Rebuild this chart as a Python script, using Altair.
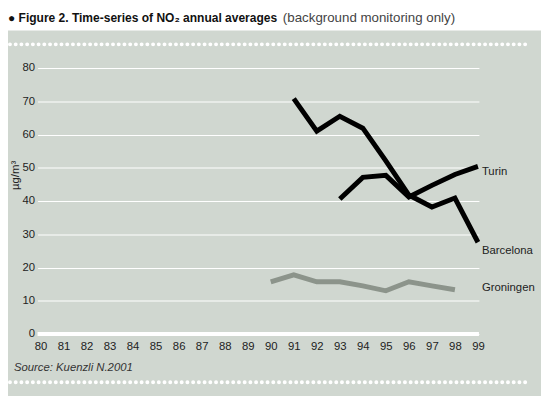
import altair as alt
import pandas as pd

years_barcelona = [91, 92, 93, 94, 95, 96, 97, 98, 99]
barcelona = [70.8, 61.0, 65.5, 61.9, 52.1, 41.8, 38.2, 40.9, 27.6]
years_turin = [93, 94, 95, 96, 97, 98, 99]
turin = [40.6, 47.1, 47.7, 41.2, 44.7, 48.0, 50.4]
years_groningen = [90, 91, 92, 93, 94, 95, 96, 97, 98]
groningen = [15.7, 17.8, 15.7, 15.7, 14.5, 13.0, 15.7, 14.5, 13.3]
x_ticks = list(range(80, 100))
y_ticks = list(range(0, 90, 10))
cities = ["Barcelona", "Turin", "Groningen"]
colors = ["#000000", "#000000", "#8c948b"]

rows = []
for c, ys, vs in [("Barcelona", years_barcelona, barcelona),
                  ("Turin", years_turin, turin),
                  ("Groningen", years_groningen, groningen)]:
    for y, v in zip(ys, vs):
        rows.append({"city": c, "year": y, "value": v})
df = pd.DataFrame(rows)
one = pd.DataFrame({"k": [0], "z": [0]})

FONT = "Liberation Sans"
W, H = 448, 270

xs = alt.Scale(domain=[79.872, 99.043], nice=False, zero=False)
ys = alt.Scale(domain=[0, 80], nice=False)
xaxis = alt.Axis(values=x_ticks, title=None, grid=False, ticks=False, domain=False,
                 labelPadding=7, labelFontSize=11.5, labelColor="#222", labelFont=FONT,
                 labelFlush=False, labelOverlap=False)
yaxis = alt.Axis(values=y_ticks, title=None, grid=True, gridColor="white", gridWidth=1,
                 gridOpacity=1, ticks=False, domain=False, labelPadding=3,
                 labelFontSize=11.5, labelColor="#222", labelFont=FONT,
                 labelOverlap=False)

lines = alt.Chart(df).mark_line(strokeWidth=5, strokeJoin="miter").encode(
    x=alt.X("year:Q", scale=xs, axis=xaxis),
    y=alt.Y("value:Q", scale=ys, axis=yaxis),
    color=alt.Color("city:N", scale=alt.Scale(domain=cities, range=colors), legend=None),
    detail="city:N",
)

zero = alt.Chart(one).mark_rule(color="white", strokeWidth=4).encode(
    y=alt.Y("z:Q", scale=ys, axis=yaxis), x=alt.value(0), x2=alt.value(W))

white_top = alt.Chart(one).mark_rect(color="white").encode(
    x=alt.value(-40), x2=alt.value(520), y=alt.value(-70), y2=alt.value(-38))

dots_top = alt.Chart(one).mark_rule(color="white", strokeWidth=4, strokeCap="round",
                                    strokeDash=[0.01, 5.8]).encode(
    x=alt.value(-28), x2=alt.value(495), y=alt.value(-24))
dots_bot = alt.Chart(one).mark_rule(color="white", strokeWidth=4, strokeCap="round",
                                    strokeDash=[0.01, 5.8]).encode(
    x=alt.value(-28), x2=alt.value(495), y=alt.value(319))

def label(city, year, val, dy):
    d = pd.DataFrame({"city": [city], "year": [year], "value": [val]})
    return alt.Chart(d).mark_text(align="left", baseline="middle", dx=4, dy=dy,
                                  fontSize=11.5, font=FONT, color="#222").encode(
        x=alt.X("year:Q", scale=xs, axis=xaxis), y=alt.Y("value:Q", scale=ys, axis=yaxis),
        text="city:N")

lab_t = label("Turin", years_turin[-1], turin[-1], 6)
lab_b = label("Barcelona", years_barcelona[-1], barcelona[-1], 9)
lab_g = label("Groningen", 99, groningen[-1], -2)

title_a = alt.Chart(one).mark_text(align="left", baseline="middle", fontSize=12.2,
                                   fontWeight="bold", font=FONT, color="#111").encode(
    x=alt.value(-30), y=alt.value(-51), text=alt.value("● Figure 2. Time-series of NO₂ annual averages"))
title_b = alt.Chart(one).mark_text(align="left", baseline="middle", fontSize=13.5,
                                   font=FONT, color="#444").encode(
    x=alt.value(249), y=alt.value(-51), text=alt.value("(background monitoring only)"))
source = alt.Chart(one).mark_text(align="left", baseline="middle", fontSize=11.5,
                                  fontStyle="italic", font=FONT, color="#333").encode(
    x=alt.value(-24), y=alt.value(305), text=alt.value("Source: Kuenzli N.2001"))
ytitle = alt.Chart(one).mark_text(angle=270, align="center", baseline="middle", fontSize=11.5,
                                  font=FONT, color="#222").encode(
    x=alt.value(-22), y=alt.value(109), text=alt.value("µg/m³"))

chart = alt.layer(
    white_top, dots_top, dots_bot, zero, lines, lab_t, lab_b, lab_g,
    title_a, title_b, source, ytitle
).properties(
    width=W, height=H,
    autosize=alt.AutoSizeParams(type="none"),
    padding={"left": 30, "top": 58, "right": 63, "bottom": 60},
    background="#d0d7d0",
).configure_view(stroke=None)

chart.save("out.html", embed_options={"renderer": "svg", "actions": False})
